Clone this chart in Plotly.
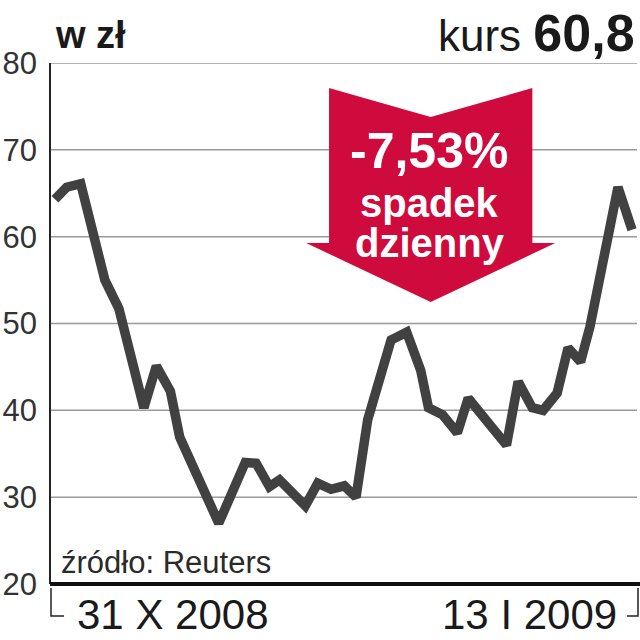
import plotly.graph_objects as go

# ---- data ----
# calendar days since 31 X 2008 (0) to 13 I 2009 (74)
dni = [0.0, 1.5, 3.3, 6.4, 8.2, 11.4, 13.0, 14.8, 16.0, 17.9, 21.0, 24.4, 25.8,
       27.5, 28.8, 32.1, 33.7, 35.4, 37.1, 38.6, 40.1, 43.1, 45.1, 46.9, 47.9,
       49.7, 51.6, 53.0, 55.9, 57.9, 59.4, 61.2, 62.6, 64.4, 65.8, 67.4, 68.6,
       69.7, 70.8, 72.2, 74.0]
kurs = [64.3, 65.7, 66.1, 55.0, 51.7, 40.3, 45.1, 42.2, 36.9, 33.1, 27.0, 34.0, 33.9,
        31.2, 32.0, 29.0, 31.6, 30.9, 31.3, 30.0, 38.9, 48.1, 49.0, 44.6, 40.3,
        39.5, 37.4, 41.4, 38.3, 36.0, 43.3, 40.3, 40.0, 42.0, 47.2, 45.6, 49.6,
        54.2, 59.3, 65.7, 60.8]
y_ticks = [20, 30, 40, 50, 60, 70, 80]
y_tick_labels = ["20", "30", "40", "50", "60", "70", "80"]
start_label = "31 X 2008"
end_label = "13 I 2009"
unit_label = "w zł"
last_value_label = "60,8"
change_label = "-7,53%"

# ---- layout geometry (pixels) ----
W, H = 640, 640
L, R, T, B = 48, 3, 63, 56
PW, PH = W - L - R, H - T - B


def px(x):
    return (x - L) / PW


def py(y):
    return (H - B - y) / PH


FONT = "Liberation Sans, Arial, sans-serif"
RED = "#cf0a3c"
INK = "#1a1a1a"

fig = go.Figure()
fig.add_trace(go.Scatter(
    x=dni, y=kurs, mode="lines",
    line=dict(color="#414141", width=9.5),
    hoverinfo="skip", showlegend=False,
))

shapes = []
# gridlines
for v in y_ticks[1:]:
    shapes.append(dict(type="line", xref="paper", yref="y", x0=0, x1=1, y0=v, y1=v,
                       line=dict(color="#9a9a9a", width=1.5), layer="below"))
# axis lines
shapes.append(dict(type="line", xref="paper", yref="paper", x0=0, x1=0, y0=0, y1=1,
                   line=dict(color="#222", width=2)))
shapes.append(dict(type="line", xref="paper", yref="paper", x0=px(48), x1=px(640),
                   y0=0, y1=0, line=dict(color="#111", width=4)))
# brackets under the axis
shapes.append(dict(type="path", xref="paper", yref="paper",
                   path=f"M {px(49)} {py(588)} L {px(49)} {py(616)} L {px(62)} {py(616)}",
                   line=dict(color="#222", width=1.5)))
shapes.append(dict(type="path", xref="paper", yref="paper",
                   path=f"M {px(638)} {py(588)} L {px(638)} {py(616)} L {px(627)} {py(616)}",
                   line=dict(color="#222", width=1.5)))
# red arrow
pts = [(328, 88), (430, 117), (532, 88), (532, 243), (555, 243), (430, 302),
       (305, 243), (328, 243)]
path = "M " + " L ".join(f"{px(a)} {py(b)}" for a, b in pts) + " Z"
shapes.append(dict(type="path", xref="paper", yref="paper", path=path,
                   fillcolor=RED, line=dict(width=0), layer="above"))

ann = []
ann.append(dict(xref="paper", yref="paper", x=px(51), y=py(35), xanchor="left",
                yanchor="middle", text=unit_label, showarrow=False,
                font=dict(family=FONT, size=38, color=INK, weight="bold")))
ann.append(dict(xref="paper", yref="paper", x=px(637), y=py(33), xanchor="right",
                yanchor="middle",
                text=f"kurs <b><span style='font-size:52px'>{last_value_label}</span></b>",
                showarrow=False, font=dict(family=FONT, size=44, color=INK)))
ann.append(dict(xref="paper", yref="paper", x=px(428), y=py(151), xanchor="center",
                yanchor="middle", text=f"<b>{change_label}</b>", showarrow=False,
                font=dict(family=FONT, size=50, color="white")))
ann.append(dict(xref="paper", yref="paper", x=px(429), y=py(203), xanchor="center",
                yanchor="middle", text="<b>spadek</b>", showarrow=False,
                font=dict(family=FONT, size=40, color="white")))
ann.append(dict(xref="paper", yref="paper", x=px(429), y=py(243), xanchor="center",
                yanchor="middle", text="<b>dzienny</b>", showarrow=False,
                font=dict(family=FONT, size=40, color="white")))
ann.append(dict(xref="paper", yref="paper", x=px(57), y=py(562), xanchor="left",
                yanchor="middle", text="źródło: Reuters", showarrow=False,
                font=dict(family=FONT, size=31, color="#2a2a2a")))
ann.append(dict(xref="paper", yref="paper", x=px(73), y=py(614), xanchor="left",
                yanchor="middle", text=start_label, showarrow=False,
                font=dict(family=FONT, size=42, color=INK)))
ann.append(dict(xref="paper", yref="paper", x=px(619), y=py(614), xanchor="right",
                yanchor="middle", text=end_label, showarrow=False,
                font=dict(family=FONT, size=42, color=INK)))

x0 = -(5 / 579) * 74
x1 = 74 + (5 / 579) * 74
fig.update_layout(
    width=W, height=H, autosize=False,
    margin=dict(l=L, r=R, t=T, b=B, pad=0),
    paper_bgcolor="white", plot_bgcolor="white",
    xaxis=dict(range=[x0, x1], showgrid=False, zeroline=False, showticklabels=False,
               showline=False, ticks=""),
    yaxis=dict(range=[20, 80], tickvals=y_ticks, ticktext=y_tick_labels,
               showgrid=False, zeroline=False, showline=False, ticks="",
               ticklabelstandoff=12,
               tickfont=dict(family=FONT, size=31, color="#333")),
    shapes=shapes, annotations=ann,
    showlegend=False,
)

fig.write_html(
    "out.html",
    config={"displayModeBar": False},
    post_script="document.body.style.margin='0';document.body.style.padding='0';"
                "document.body.style.overflow='hidden';",
)
